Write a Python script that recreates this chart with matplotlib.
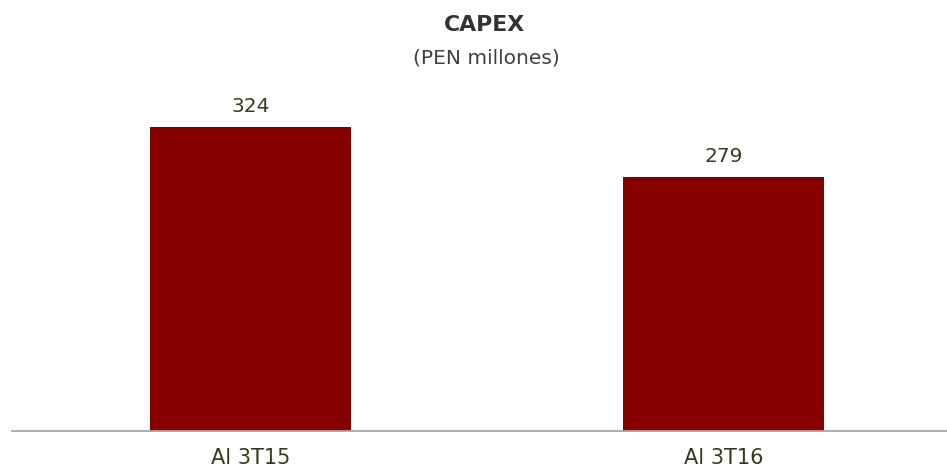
import matplotlib
matplotlib.use("Agg")
import matplotlib.pyplot as plt

categories = ["Al 3T15", "Al 3T16"]
values = [324, 279]

W, H = 947, 473
fig = plt.figure(figsize=(W / 100, H / 100), dpi=100)

ax_left, ax_right = 12, 947
ax_top, ax_bottom = 100, 431
ax = fig.add_axes([ax_left / W, 1 - ax_bottom / H, (ax_right - ax_left) / W, (ax_bottom - ax_top) / H])

x = list(range(len(categories)))
ax.bar(x, values, width=0.425, color="#870000", zorder=2)
ax.set_xlim(-0.504, 1.4725)
ax.set_ylim(47.4, 348.9)

for xi, v in zip(x, values):
    ax.annotate(f"{v}", (xi, v), xytext=(0, 8), textcoords="offset points",
                ha="center", va="bottom", fontsize=14.5, color="#3a3a1a")

for s in ["top", "right", "left"]:
    ax.spines[s].set_visible(False)
ax.spines["bottom"].set_color("#a6a6a6")
ax.spines["bottom"].set_linewidth(1.3)
ax.set_yticks([])
ax.set_xticks(x)
ax.set_xticklabels(categories, fontsize=15, color="#3a3a1a")
ax.tick_params(axis="x", length=0, pad=12)

fig.text(484 / W, 1 - 25 / H, "CAPEX", ha="center", va="center",
         fontsize=15.8, fontweight="bold", color="#333333")
fig.text(486 / W, 1 - 58 / H, "(PEN millones)", ha="center", va="center",
         fontsize=14.5, color="#404040")

fig.savefig("out.png", dpi=100)
